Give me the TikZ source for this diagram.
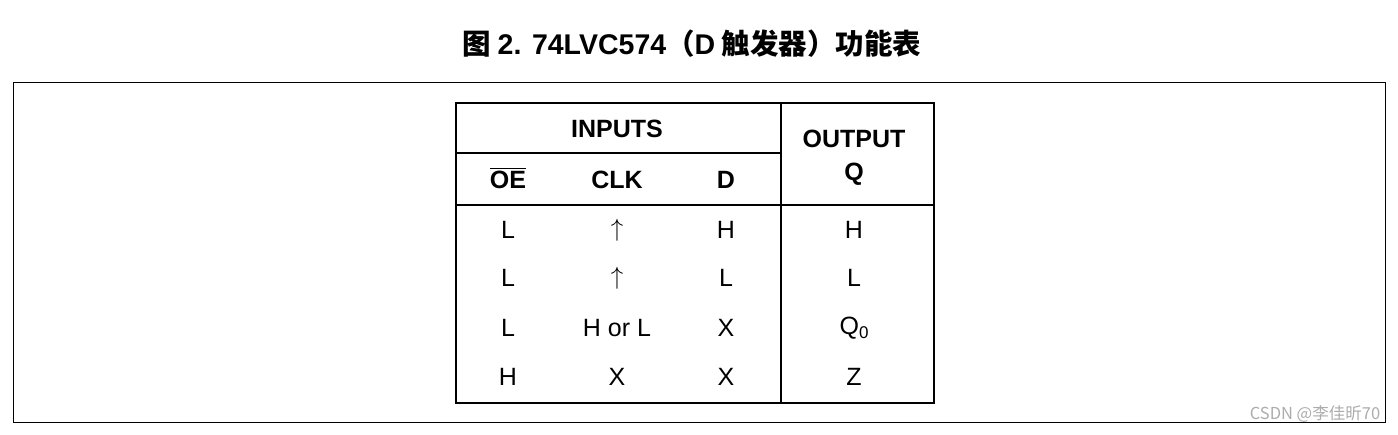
\documentclass[tikz,border=0pt]{standalone}
\usepackage{fontspec}
\setmainfont{Liberation Sans}
\newfontfamily\cjk{Noto Sans CJK SC}
\newcommand{\qsub}{Q\raisebox{-0.3ex}{\fontsize{17}{20}\selectfont 0}}
\newcommand{\ovl}[1]{\leavevmode\vbox{\hrule height 1.3pt\kern 2pt\hbox{#1}}}
\begin{document}
\begin{tikzpicture}[x=1pt,y=-1pt,
  cell/.style={font=\fontsize{25}{29}\selectfont},
  hcell/.style={font=\bfseries\fontsize{25}{29}\selectfont},
  tbl/.style={line width=2.6pt}]
\useasboundingbox (0,0) rectangle (1398,434);
\node[font=\cjk\bfseries\fontsize{28.5}{33}\selectfont] (title) at (692,44) {图 {\rmfamily\bfseries 2. 74LVC574}（{\rmfamily\bfseries D} 触发器）功能表};
\draw[line width=0.8pt] (13,82) rectangle (1385,422);
\draw[tbl] (456,103) rectangle (934,403);
\draw[tbl] (781,103) -- (781,403);
\draw[tbl] (456,153) -- (781,153);
\draw[tbl] (456,205) -- (934,205);
\node[hcell] (inputs) at (617,129) {INPUTS};
\node[hcell] (oe) at (508,178) {\ovl{OE}};
\node[hcell] (clk) at (617,180) {CLK};
\node[hcell] (d) at (726,180) {D};
\node[hcell] (output) at (854,139) {OUTPUT};
\node[hcell] (q) at (854,174) {Q};
\foreach \y/\a/\b/\c/\o [count=\i] in {230/L/$\uparrow$/H/H, 278/L/$\uparrow$/L/L, 328/L/H or L/X/\qsub, 377/H/X/X/Z}{
  \node[cell] (a\i) at (508,\y) {\a};
  \node[cell] (b\i) at (617,\y) {\b};
  \node[cell] (c\i) at (726,\y) {\c};
  \node[cell] (o\i) at (854,\y) {\o};
}
\node[font=\cjk\fontsize{16.5}{18}\selectfont, text=gray!65] (wm) at (1315,414) {CSDN @李佳昕70};
\end{tikzpicture}
\end{document}
